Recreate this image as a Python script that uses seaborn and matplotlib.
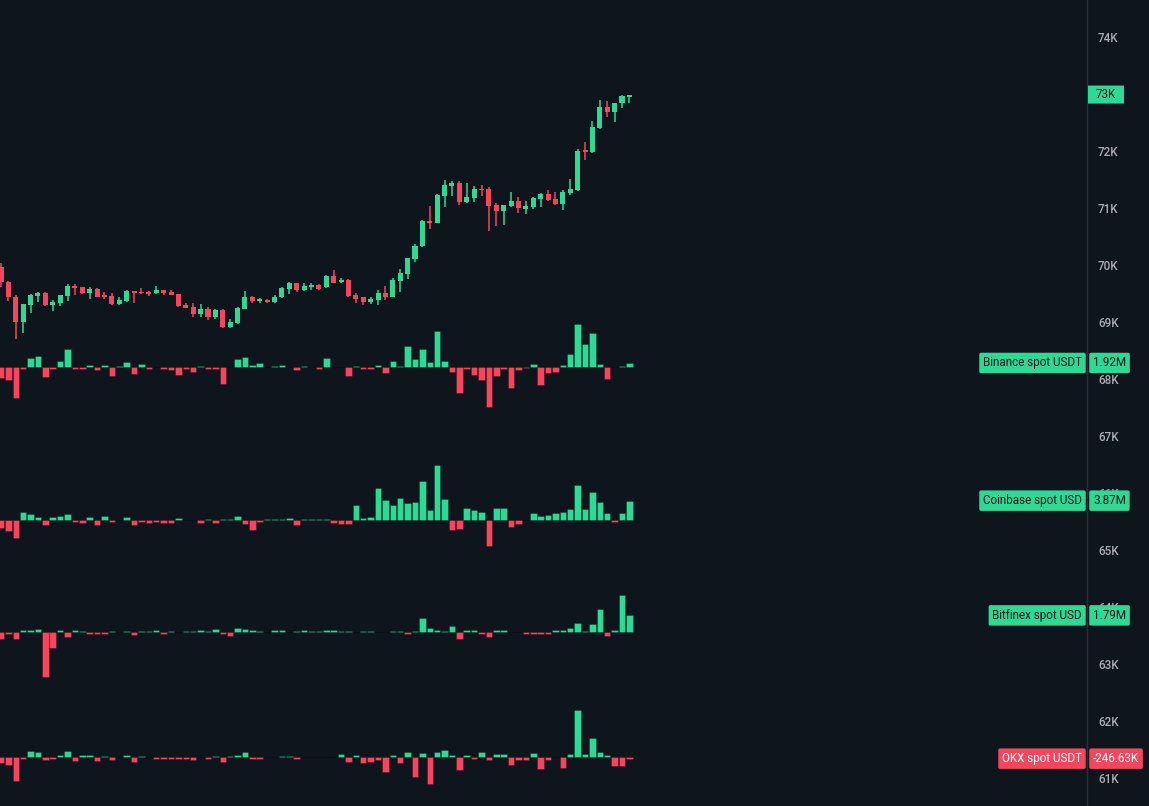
import numpy as np
import pandas as pd
import seaborn as sns
import matplotlib.pyplot as plt
from matplotlib import font_manager as fm
from matplotlib.patches import FancyBboxPatch

# 86 candles, OHLC
opens = [69970, 69710, 69440, 69000, 69300, 69460, 69510, 69300, 69330, 69460,
         69630, 69610, 69510, 69580, 69470, 69460, 69310, 69360, 69540, 69530,
         69530, 69510, 69560, 69530, 69490, 69300, 69260, 69140, 69230, 69090,
         69210, 68910, 68980, 69230, 69440, 69360, 69390, 69350, 69430, 69580,
         69680, 69560, 69620, 69650, 69610, 69810, 69700, 69740, 69470, 69430,
         69350, 69380, 69510, 69440, 69720, 69840, 70110, 70330, 70780, 70740,
         71210, 71390, 71440, 71100, 71170, 71340, 71330, 71060, 70950, 71040,
         71120, 70990, 71020, 71160, 71250, 71160, 71070, 71260, 71320, 72010,
         71980, 72400, 72770, 72690, 72840, 72940]
highs = [70040, 69720, 69470, 69310, 69490, 69530, 69520, 69390, 69480, 69660,
         69670, 69620, 69620, 69590, 69530, 69510, 69430, 69560, 69550, 69600,
         69550, 69630, 69570, 69560, 69500, 69330, 69330, 69320, 69260, 69220,
         69220, 69050, 69260, 69540, 69450, 69420, 69400, 69470, 69610, 69700,
         69690, 69680, 69680, 69660, 69820, 69910, 69780, 69750, 69510, 69440,
         69440, 69560, 69630, 69780, 69930, 70130, 70370, 70790, 71040, 71250,
         71490, 71470, 71470, 71440, 71390, 71400, 71370, 71090, 71060, 71280,
         71190, 71120, 71190, 71260, 71320, 71280, 71310, 71510, 72040, 72160,
         72530, 72900, 72880, 72850, 72980, 72990]
lows = [69620, 69360, 68710, 68810, 69160, 69350, 69280, 69200, 69280, 69360,
        69470, 69500, 69400, 69430, 69400, 69300, 69300, 69350, 69330, 69500,
        69460, 69500, 69470, 69470, 69270, 69240, 69080, 69090, 69040, 69060,
        68900, 68900, 68960, 69220, 69330, 69330, 69340, 69330, 69420, 69490,
        69530, 69550, 69560, 69560, 69600, 69680, 69680, 69430, 69330, 69290,
        69310, 69290, 69390, 69430, 69530, 69760, 70060, 70320, 70640, 70730,
        71020, 71210, 71060, 71090, 71100, 71210, 70590, 70690, 70710, 71020,
        70920, 70900, 70980, 71020, 71130, 71050, 70960, 71230, 71300, 71840,
        71970, 72390, 72600, 72500, 72750, 72840]
closes = [69710, 69430, 69000, 69310, 69470, 69510, 69290, 69350, 69470, 69630,
          69590, 69510, 69580, 69440, 69430, 69310, 69380, 69540, 69510, 69510,
          69500, 69560, 69510, 69480, 69280, 69250, 69140, 69230, 69090, 69210,
          68910, 69000, 69250, 69440, 69360, 69400, 69350, 69440, 69600, 69680,
          69560, 69630, 69650, 69580, 69810, 69690, 69740, 69450, 69410, 69350,
          69400, 69510, 69440, 69740, 69860, 70120, 70340, 70780, 70740, 71230,
          71400, 71440, 71100, 71190, 71340, 71310, 71040, 70950, 71060, 71120,
          71000, 71040, 71180, 71250, 71140, 71070, 71280, 71330, 72000, 71980,
          72420, 72770, 72680, 72850, 72960, 72990]

# net flow per candle, in millions
binance = [-4.9, -5.7, -13.7, -0.7, 4.0, 4.9, -4.5, -0.7, 2.8, 8.2,
           -0.7, -0.7, 1.0, -1.2, 1.0, -4.0, 0.6, 2.4, -2.8, 1.5,
           -0.7, 0.3, -0.7, -1.0, -3.3, -0.6, -1.9, 0.6, -0.7, -0.7,
           -7.5, 0.3, 3.6, 4.5, 1.0, 1.9, 0.3, 0.4, 1.0, 0.3,
           -1.2, 0.6, 0.3, -0.7, 4.0, 0.3, 0.3, -3.7, 0.4, -0.7,
           -0.7, 0.9, -2.4, 2.7, 0.4, 9.6, 3.6, 8.2, 2.2, 16.0,
           2.7, -1.9, -11.3, -0.7, -3.3, -5.8, -17.6, -4.0, -0.7, -9.1,
           -1.2, -0.4, 1.5, -7.9, -2.4, -1.9, 1.0, 5.8, 19.0, 10.4,
           15.2, 1.5, -5.1, 0.3, 0.6, 1.92]
coinbase = [-1.67, -2.2, -3.5, 1.6, 1.2, 0.6, -0.9, 0.6, 0.8, 1.2,
            -0.3, -0.5, 0.6, -0.9, 0.8, -0.3, 0.1, 0.6, -0.9, -0.3,
            -0.5, -0.3, -0.5, -0.5, 0.4, 0.1, 0.1, -0.5, 0.3, -0.5,
            0.3, 0.3, 0.8, -0.7, -2.0, -0.3, 0.3, 0.3, 0.3, 0.4,
            -0.9, 0.3, 0.3, 0.3, 0.3, -0.5, -0.7, -0.7, 3.0, 0.4,
            0.6, 6.4, 4.1, 3.0, 4.5, 3.5, 3.7, 7.8, 2.1, 11.1,
            4.3, -2.0, -1.7, 2.4, 2.0, 1.6, -5.2, 2.4, 2.4, -1.4,
            -0.7, 0.1, 1.5, 0.9, 1.1, 1.5, 1.6, 2.2, 7.0, 2.2,
            5.6, 3.7, 1.5, -0.3, 1.5, 3.87]
bitfinex = [-0.84, -0.3, -0.84, 0.15, 0.15, 0.33, -5.0, -1.75, 0.15, -0.62,
            0.15, 0.05, -0.2, -0.2, -0.2, 0.05, -0.05, 0.05, -0.33, 0.05,
            0.05, 0.15, -0.2, 0.05, -0.05, 0.05, 0.05, 0.15, 0.05, 0.33,
            -0.2, -0.44, 0.44, 0.33, 0.15, 0.05, -0.05, 0.15, 0.15, -0.05,
            0.05, 0.15, 0.05, 0.05, 0.15, 0.15, 0.05, 0.05, -0.05, 0.05,
            0.05, -0.05, -0.05, 0.05, 0.05, -0.2, 0.05, 1.5, 0.44, 0.15,
            0.05, 0.66, -0.84, 0.15, 0.15, -0.2, -0.62, 0.15, 0.15, -0.05,
            -0.05, -0.2, -0.2, -0.2, -0.2, 0.15, 0.15, 0.44, 0.95, 0.05,
            0.84, 2.5, -0.44, 0.15, 4.0, 1.79]
okx = [-0.95, -1.15, -3.55, -0.3, 0.9, 0.75, -0.45, -0.3, 0.3, 0.9,
       -0.6, 0.3, 0.3, -0.6, 0.15, -0.45, 0.05, 0.3, -0.75, 0.15,
       0.05, -0.3, -0.3, -0.3, -0.3, -0.3, -0.45, -0.05, -0.3, 0.15,
       -0.75, 0.15, 0.3, 0.75, -0.3, -0.3, 0.05, -0.05, 0.15, 0.15,
       -0.3, 0.05, 0.05, -0.05, -0.05, -0.05, 0.45, -0.7, 0.3, -0.95,
       -0.7, -0.45, -2.2, 0.3, -0.85, 0.75, -2.95, 0.6, -4.1, 0.75,
       1.05, 0.3, -1.95, 0.3, -0.3, 0.75, -0.45, 0.45, 0.45, -1.15,
       -0.45, -0.45, 0.6, -1.85, -0.45, 0.05, -1.7, 0.45, 7.05, 0.45,
       2.9, 0.75, 0.3, -1.3, -1.3, -0.247]

series_names = ["Binance spot USDT", "Coinbase spot USD", "Bitfinex spot USD", "OKX spot USDT"]
series_values = [binance, coinbase, bitfinex, okx]
last_labels = ["1.92M", "3.87M", "1.79M", "-246.63K"]

price_ticks = list(range(61000, 75000, 1000))
price_labels = [f"{t // 1000}K" for t in price_ticks]
last_price_label = "73K"

# look
BG = "#0f151c"
GREEN = "#2ed995"
RED = "#f6465d"
AXIS = "#2a2f39"
TICK = "#acaeb4"


def pick_font(names):
    for n in names:
        try:
            fm.findfont(fm.FontProperties(family=n), fallback_to_default=False)
            return n
        except ValueError:
            pass
    return "DejaVu Sans"


# the original uses a condensed face; fall back to a smaller regular one
font = pick_font(["Liberation Sans Narrow", "DejaVu Sans Condensed", "Roboto", "Liberation Sans"])
narrow = font in ("Liberation Sans Narrow", "DejaVu Sans Condensed")
FS = 9.3 if narrow else 8.4

sns.set_theme(style="dark", rc={"axes.facecolor": BG, "figure.facecolor": BG})
plt.rcParams["font.family"] = [font, "DejaVu Sans"]

W, H = 1149, 806
fig = plt.figure(figsize=(W / 100, H / 100), dpi=100)
rect = [0, 0, 1087 / W, 1]
ax = fig.add_axes(rect)

o = np.array(opens)
h = np.array(highs)
l = np.array(lows)
c = np.array(closes)
idx = np.arange(len(o))
cols = np.where(c >= o, GREEN, RED)

# candles
ax.vlines(idx, l, h, colors=cols, linewidth=1.1, zorder=2)
ax.bar(idx, np.maximum(np.abs(c - o), 20), bottom=np.minimum(o, c), width=0.68,
       color=cols, linewidth=0, zorder=3)

ymin, ymax = 60509, 74649
ax.set_ylim(ymin, ymax)
ax.yaxis.tick_right()
# the 73K tick sits under the last-price tag, so leave it blank
ax.set_yticks(price_ticks, [("" if t == last_price_label else t) for t in price_labels])
ax.tick_params(axis="y", length=0, pad=8, labelsize=FS, labelcolor=TICK)
for t in ax.get_yticklabels():
    t.set_fontweight("medium")
ax.set_xticks([])
for s in ["top", "left", "bottom"]:
    ax.spines[s].set_visible(False)
ax.spines["right"].set_color(AXIS)
ax.spines["right"].set_linewidth(1)

box_style = "round,pad=0.32,rounding_size=0.15"

# last price tag, fixed 36 x 18 px like the price scale badge
per_px = (ymax - ymin) / H
tag = FancyBboxPatch((1 + 1 / 1087, closes[-1] - 9 * per_px), 36 / 1087, 18 * per_px,
                     boxstyle="round,pad=0,rounding_size=0.001", fc=GREEN, ec="none",
                     transform=ax.get_yaxis_transform(), clip_on=False, zorder=5)
ax.add_patch(tag)
ax.annotate(last_price_label, xy=(1, closes[-1]), xycoords=ax.get_yaxis_transform(),
            xytext=(19, 0), textcoords="offset pixels", ha="center", va="center",
            fontsize=FS, color=BG, annotation_clip=False, zorder=6)

# flow panels: zero line pixel row and pixels per million
baselines = [367.3, 520, 631.7, 757]
px_per_m = [2.26, 5.0, 9.13, 6.67]

for name, vals, lab, b, s in zip(series_names, series_values, last_labels, baselines, px_per_m):
    bx = fig.add_axes(rect, sharex=ax)
    bx.patch.set_alpha(0)
    v = np.array(vals)
    df = pd.DataFrame({"i": idx, "v": v, "sign": np.where(v >= 0, "up", "down")})
    sns.barplot(data=df, x="i", y="v", hue="sign", palette={"up": GREEN, "down": RED},
                dodge=False, native_scale=True, width=0.88, errorbar=None, legend=False,
                edgecolor=(0, 0, 0, 0.25), linewidth=0.7, saturation=1, ax=bx)
    bx.set_ylim((b - H) / s, b / s)
    bx.set_axis_off()

    face = GREEN if vals[-1] >= 0 else RED
    txt = BG if vals[-1] >= 0 else "white"
    box = dict(boxstyle=box_style, fc=face, ec="none")
    bx.annotate(name, xy=(1, vals[-1]), xycoords=bx.get_yaxis_transform(),
                xytext=(-5, 0), textcoords="offset pixels", ha="right", va="center",
                fontsize=FS, color=txt, annotation_clip=False, bbox=box, zorder=6)
    bx.annotate(lab, xy=(1, vals[-1]), xycoords=bx.get_yaxis_transform(),
                xytext=(6, 0), textcoords="offset pixels", ha="left", va="center",
                fontsize=FS, color=txt, annotation_clip=False, bbox=box, zorder=6)

ax.set_xlim(-0.135, 146.9)

fig.savefig("out.png", dpi=100, facecolor=BG)
